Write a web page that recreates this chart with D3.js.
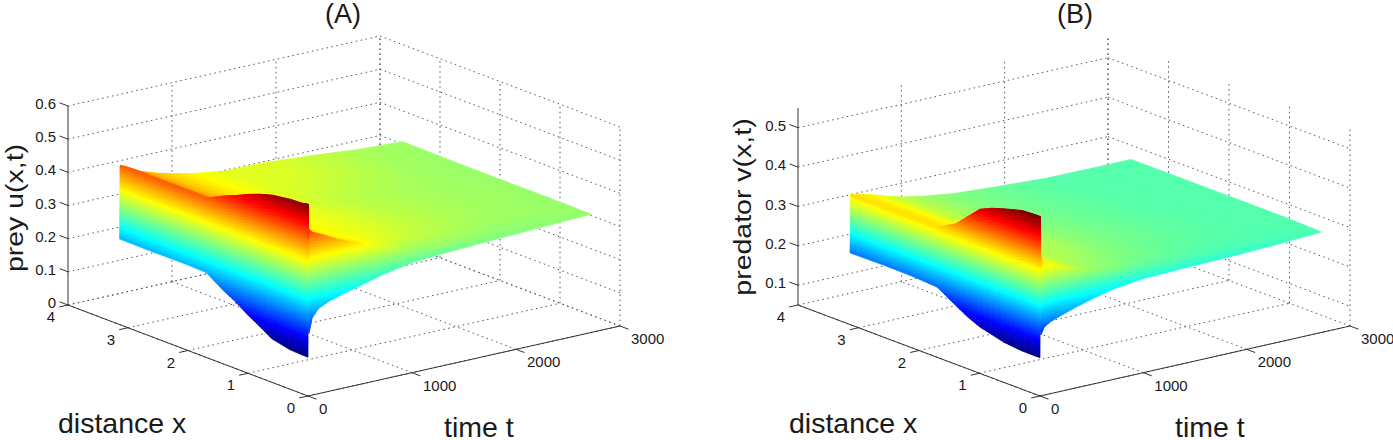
<!DOCTYPE html>
<html>
<head>
<meta charset="utf-8">
<title>prey predator surfaces</title>
<script src="https://cdn.jsdelivr.net/npm/d3@7"></script>
<style>
  html, body { margin: 0; padding: 0; background: #fff; }
  svg { display: block; }
  text { font-family: "Liberation Sans", Arial, sans-serif; fill: #1a1a1a; }
</style>
</head>
<body>
<div id="chart"></div>
<script>
// values
const distanceX = [0, 0.1, 0.3, 0.6, 0.8, 1.0, 1.2, 1.4, 1.7, 2.1, 2.6, 3.14]
const timeT = [0, 4, 10, 40, 100, 200, 350, 500, 700, 1000, 1400, 1900, 2300, 2720]

const distanceTicks = [0, 1, 2, 3, 4]
const timeTicks = [0, 1000, 2000, 3000]
const preyTicks = [0, 0.1, 0.2, 0.3, 0.4, 0.5, 0.6]
const predatorTicks = [0.1, 0.2, 0.3, 0.4, 0.5]

// one row per entry of timeT, one column per entry of distanceX
const preyU = [
  [0.117, 0.117, 0.119, 0.131, 0.154, 0.175, 0.200, 0.220, 0.256, 0.258, 0.257, 0.258],
  [0.578, 0.574, 0.572, 0.564, 0.553, 0.539, 0.522, 0.507, 0.480, 0.480, 0.480, 0.480],
  [0.190, 0.520, 0.550, 0.530, 0.525, 0.520, 0.505, 0.490, 0.478, 0.478, 0.478, 0.478],
  [0.232, 0.500, 0.500, 0.490, 0.480, 0.475, 0.475, 0.475, 0.475, 0.475, 0.475, 0.475],
  [0.256, 0.480, 0.470, 0.460, 0.455, 0.450, 0.455, 0.460, 0.465, 0.465, 0.465, 0.465],
  [0.271, 0.465, 0.450, 0.440, 0.440, 0.440, 0.442, 0.445, 0.448, 0.448, 0.448, 0.448],
  [0.285, 0.440, 0.430, 0.425, 0.425, 0.425, 0.428, 0.430, 0.432, 0.432, 0.432, 0.432],
  [0.297, 0.420, 0.415, 0.410, 0.410, 0.410, 0.412, 0.415, 0.420, 0.420, 0.420, 0.420],
  [0.314, 0.400, 0.400, 0.398, 0.400, 0.400, 0.400, 0.400, 0.404, 0.406, 0.406, 0.406],
  [0.332, 0.365, 0.385, 0.390, 0.390, 0.390, 0.390, 0.390, 0.388, 0.390, 0.392, 0.392],
  [0.340, 0.360, 0.372, 0.375, 0.376, 0.376, 0.376, 0.375, 0.374, 0.380, 0.388, 0.390],
  [0.347, 0.355, 0.360, 0.365, 0.366, 0.366, 0.366, 0.366, 0.366, 0.370, 0.375, 0.378],
  [0.352, 0.355, 0.360, 0.361, 0.362, 0.362, 0.362, 0.362, 0.362, 0.362, 0.364, 0.366],
  [0.357, 0.357, 0.358, 0.358, 0.358, 0.358, 0.358, 0.358, 0.358, 0.358, 0.359, 0.360]
]

const predatorV = [
  [0.147, 0.147, 0.147, 0.152, 0.160, 0.168, 0.182, 0.200, 0.228, 0.232, 0.233, 0.232],
  [0.505, 0.505, 0.503, 0.490, 0.480, 0.466, 0.436, 0.406, 0.380, 0.380, 0.380, 0.380],
  [0.205, 0.460, 0.495, 0.480, 0.465, 0.440, 0.420, 0.400, 0.378, 0.378, 0.378, 0.378],
  [0.222, 0.410, 0.430, 0.430, 0.420, 0.410, 0.400, 0.390, 0.377, 0.377, 0.377, 0.377],
  [0.232, 0.375, 0.370, 0.370, 0.370, 0.370, 0.371, 0.372, 0.375, 0.375, 0.375, 0.375],
  [0.242, 0.365, 0.362, 0.362, 0.362, 0.362, 0.363, 0.365, 0.368, 0.368, 0.368, 0.368],
  [0.255, 0.350, 0.348, 0.348, 0.349, 0.350, 0.351, 0.352, 0.355, 0.355, 0.355, 0.355],
  [0.266, 0.337, 0.338, 0.340, 0.340, 0.340, 0.341, 0.342, 0.344, 0.344, 0.344, 0.344],
  [0.279, 0.328, 0.330, 0.335, 0.337, 0.338, 0.337, 0.336, 0.334, 0.334, 0.334, 0.334],
  [0.289, 0.315, 0.322, 0.325, 0.326, 0.326, 0.326, 0.326, 0.325, 0.324, 0.323, 0.323],
  [0.292, 0.308, 0.314, 0.316, 0.317, 0.318, 0.318, 0.318, 0.317, 0.316, 0.316, 0.316],
  [0.295, 0.304, 0.308, 0.310, 0.311, 0.311, 0.311, 0.311, 0.310, 0.310, 0.309, 0.309],
  [0.299, 0.305, 0.307, 0.308, 0.308, 0.308, 0.308, 0.308, 0.308, 0.308, 0.308, 0.308],
  [0.305, 0.306, 0.307, 0.308, 0.308, 0.308, 0.308, 0.308, 0.308, 0.308, 0.308, 0.308]
]

const jetStops = ['#000080', '#0000ff', '#00ffff', '#ffff00', '#ff0000', '#800000']
const jetPositions = [0, 0.125, 0.375, 0.625, 0.875, 1]

const svg = d3.select('#chart').append('svg')
  .attr('width', 1393)
  .attr('height', 440)

const drawPanel = (opts) => {
  const { values, zTicks, zDomain, colorDomain } = opts
  const panel = svg.append('g').attr('class', opts.name)

  // orthographic box: every axis adds its own screen offset
  const xToLeft = d3.scaleLinear().domain([0, 4]).range([0, opts.xVector[0]])
  const xToTop = d3.scaleLinear().domain([0, 4]).range([0, opts.xVector[1]])
  const tToLeft = d3.scaleLinear().domain([0, 3000]).range([0, opts.tVector[0]])
  const tToTop = d3.scaleLinear().domain([0, 3000]).range([0, opts.tVector[1]])
  const zToTop = d3.scaleLinear().domain(zDomain).range([0, -opts.zHeight])
  const jet = d3.scaleLinear()
    .domain(jetPositions.map(d => colorDomain[0] + (colorDomain[1] - colorDomain[0]) * d))
    .range(jetStops)
    .clamp(true)

  const project = (x, t, z) => [
    opts.origin[0] + xToLeft(x) + tToLeft(t),
    opts.origin[1] + xToTop(x) + tToTop(t) + zToTop(z)
  ]
  const line = d3.line()
  const zLow = zDomain[0]
  const zHigh = zDomain[1]

  // dotted grid on the floor and on the two back walls
  const gridLines = []
  distanceTicks.forEach((x) => {
    gridLines.push([project(x, 0, zLow), project(x, 3000, zLow)])
    gridLines.push([project(x, 3000, zLow), project(x, 3000, zHigh)])
  })
  timeTicks.forEach((t) => {
    gridLines.push([project(0, t, zLow), project(4, t, zLow)])
    if (t > 0) gridLines.push([project(4, t, zLow), project(4, t, zHigh)])
  })
  zTicks.forEach((z) => {
    gridLines.push([project(4, 0, z), project(4, 3000, z)])
    gridLines.push([project(4, 3000, z), project(0, 3000, z)])
  })
  panel.append('g').attr('class', 'grid')
    .selectAll('path')
    .data(gridLines)
    .join('path')
    .attr('d', line)
    .attr('fill', 'none')
    .attr('stroke', '#555')
    .attr('stroke-width', 1)
    .attr('stroke-dasharray', '1.5 3.5')

  // surface, painted from the far corner to the near one
  const cells = []
  const step = 3
  const gap = (a, b) => Math.max(Math.abs(a[0] - b[0]), Math.abs(a[1] - b[1]))
  for (let i = timeT.length - 2; i >= 0; i--) {
    for (let j = distanceX.length - 2; j >= 0; j--) {
      const corners = [
        project(distanceX[j], timeT[i], values[i][j]),
        project(distanceX[j + 1], timeT[i], values[i][j + 1]),
        project(distanceX[j], timeT[i + 1], values[i + 1][j]),
        project(distanceX[j + 1], timeT[i + 1], values[i + 1][j + 1])
      ]
      const nx = Math.max(1, Math.ceil(Math.max(gap(corners[0], corners[1]), gap(corners[2], corners[3])) / step))
      const nt = Math.max(1, Math.ceil(Math.max(gap(corners[0], corners[2]), gap(corners[1], corners[3])) / step))
      const at = (a, b) => {
        const x = d3.interpolateNumber(distanceX[j], distanceX[j + 1])(b)
        const t = d3.interpolateNumber(timeT[i], timeT[i + 1])(a)
        const low = d3.interpolateNumber(values[i][j], values[i][j + 1])(b)
        const high = d3.interpolateNumber(values[i + 1][j], values[i + 1][j + 1])(b)
        const z = d3.interpolateNumber(low, high)(a)
        return { p: project(x, t, z), z }
      }
      for (let a = nt - 1; a >= 0; a--) {
        for (let b = nx - 1; b >= 0; b--) {
          const quad = [at(a / nt, b / nx), at(a / nt, (b + 1) / nx), at((a + 1) / nt, (b + 1) / nx), at((a + 1) / nt, b / nx)]
          cells.push({ points: quad.map(q => q.p), z: d3.mean(quad, q => q.z) })
        }
      }
    }
  }
  panel.append('g').attr('class', 'surface')
    .selectAll('path')
    .data(cells)
    .join('path')
    .attr('d', d => line(d.points) + 'Z')
    .attr('fill', d => jet(d.z))
    .attr('stroke', d => jet(d.z))
    .attr('stroke-width', 0.7)

  // solid axes
  const axisLines = [
    [project(4, 0, zLow), project(4, 0, zHigh)],
    [project(0, 0, zLow), project(4, 0, zLow)],
    [project(0, 0, zLow), project(0, 3000, zLow)]
  ]
  distanceTicks.forEach(x => axisLines.push([project(x, 0, zLow), project(x, -85, zLow)]))
  timeTicks.forEach(t => axisLines.push([project(0, t, zLow), project(-0.14, t, zLow)]))
  zTicks.forEach(z => axisLines.push([project(4, 0, z), project(4.14, 0, z)]))
  panel.append('g').attr('class', 'axes')
    .selectAll('path')
    .data(axisLines)
    .join('path')
    .attr('d', line)
    .attr('fill', 'none')
    .attr('stroke', '#333')
    .attr('stroke-width', 1)

  // tick labels
  const labelGroup = panel.append('g').attr('class', 'ticks').attr('font-size', 15)
  labelGroup.selectAll('.x-label')
    .data(distanceTicks)
    .join('text')
    .attr('class', 'x-label')
    .attr('x', d => project(d, 0, zLow)[0] - 17)
    .attr('y', d => project(d, 0, zLow)[1] + 17)
    .attr('text-anchor', 'middle')
    .text(d => d)
  labelGroup.selectAll('.t-label')
    .data(timeTicks)
    .join('text')
    .attr('class', 't-label')
    .attr('x', d => project(0, d, zLow)[0] + 11)
    .attr('y', d => project(0, d, zLow)[1] + 18)
    .text(d => d)
  labelGroup.selectAll('.z-label')
    .data(zTicks)
    .join('text')
    .attr('class', 'z-label')
    .attr('x', d => project(4, 0, d)[0] - 12)
    .attr('y', d => project(4, 0, d)[1] + 3)
    .attr('text-anchor', 'end')
    .text(d => d === 0 ? '0' : d3.format('.1f')(d))

  // titles
  const titleGroup = panel.append('g').attr('class', 'titles').attr('font-size', 28.5)
  titleGroup.append('text')
    .attr('x', opts.title[1])
    .attr('y', 23)
    .attr('font-size', 27)
    .attr('text-anchor', 'middle')
    .text(opts.title[0])
  titleGroup.append('text')
    .attr('x', opts.xLabel)
    .attr('y', 433)
    .text('distance x')
  titleGroup.append('text')
    .attr('x', opts.tLabel)
    .attr('y', 437)
    .text('time t')
  // the rotated label is narrower across its height in the reference
  titleGroup.append('text')
    .attr('transform', `translate(${opts.zLabel[1]},${opts.zLabel[2]}) rotate(-90) scale(1,0.85)`)
    .attr('text-anchor', 'middle')
    .text(opts.zLabel[0])
}

drawPanel({
  name: 'panel-a',
  values: preyU,
  zTicks: preyTicks,
  zDomain: [0, 0.6],
  colorDomain: [0.117, 0.578],
  origin: [308, 396],
  xVector: [-240, -91],
  tVector: [312, -70],
  zHeight: 199,
  title: ['(A)', 343],
  xLabel: 58,
  tLabel: 444,
  zLabel: ['prey u(x,t)', 22.5, 208]
})

drawPanel({
  name: 'panel-b',
  values: predatorV,
  zTicks: predatorTicks,
  zDomain: [0.05, 0.55],
  colorDomain: [0.147, 0.5],
  origin: [1040, 396],
  xVector: [-242, -91],
  tVector: [310, -70],
  zHeight: 197,
  title: ['(B)', 1075],
  xLabel: 789,
  tLabel: 1175,
  zLabel: ['predator v(x,t)', 751, 207]
})
</script>
</body>
</html>
